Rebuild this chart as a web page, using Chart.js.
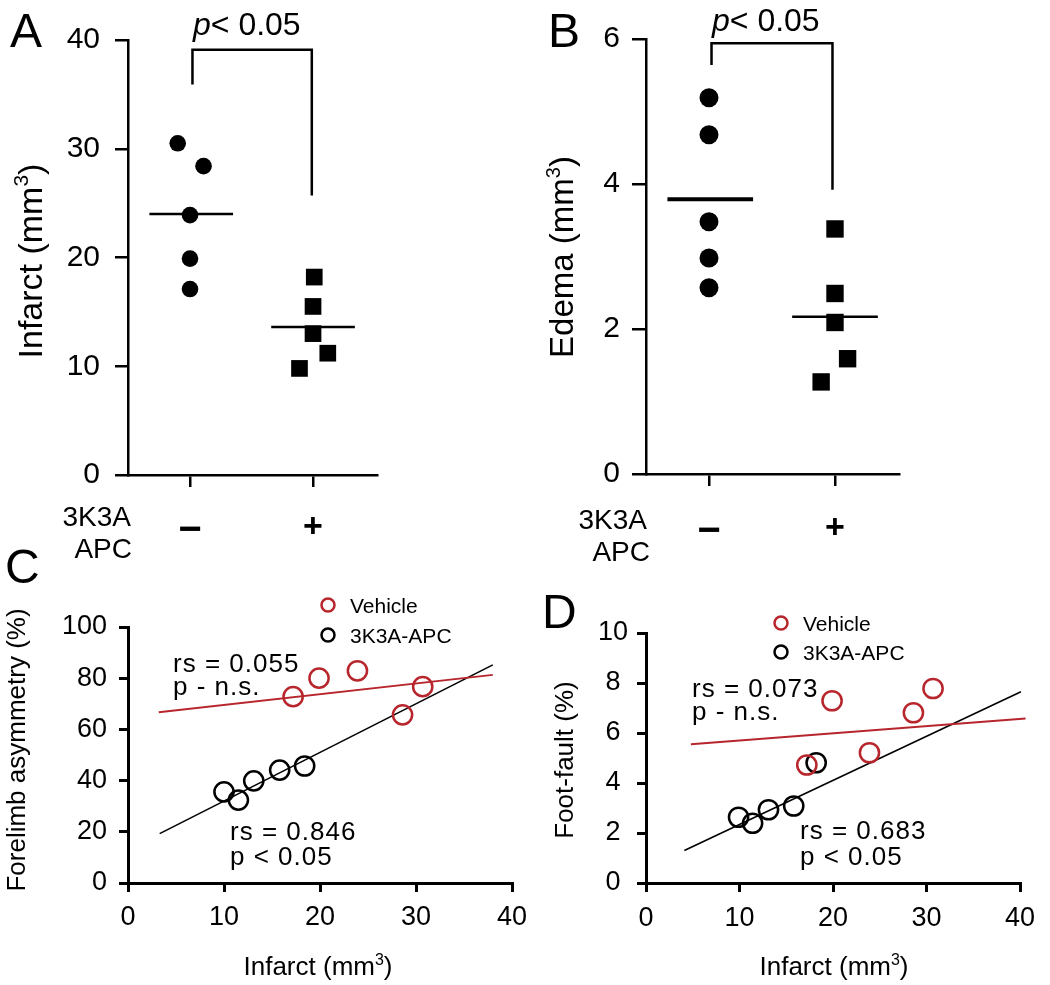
<!DOCTYPE html>
<html>
<head>
<meta charset="utf-8">
<title>3K3A-APC infarct, edema and behaviour</title>
<script src="https://cdn.jsdelivr.net/npm/chart.js@4.4.0/dist/chart.umd.min.js"></script>
<style>
  html, body { margin: 0; padding: 0; background: #fff; }
  #fig { position: relative; width: 1050px; height: 985px; }
  #fig canvas { position: absolute; left: 0; top: 0; }
</style>
</head>
<body>
<div id="fig">
  <canvas id="chartA" width="1050" height="985"></canvas>
  <canvas id="chartB" width="1050" height="985"></canvas>
  <canvas id="chartC" width="1050" height="985"></canvas>
  <canvas id="chartD" width="1050" height="985"></canvas>
</div>
<script>
// ---- data ----
// A/B: group 1 = vehicle (3K3A-APC "−"), group 2 = 3K3A-APC "+"; x has the small jitter seen in the plot
const groupTicks = [1, 2];
const groupTickLabels = ['−', '+'];

const infarctVehX = [0.90, 1.11, 1.0, 1.0, 1.0];
const infarctVehY = [30.5, 28.4, 23.9, 19.9, 17.1];
const infarctApcX = [2.01, 2.0, 2.0, 2.12, 1.89];
const infarctApcY = [18.2, 15.5, 13.0, 11.2, 9.8];
const infarctMeans = [24.0, 13.6];

const edemaVehX = [1.0, 1.0, 1.0, 1.0, 1.0];
const edemaVehY = [5.19, 4.68, 3.48, 2.98, 2.57];
const edemaApcX = [2.0, 2.0, 2.0, 2.10, 1.89];
const edemaApcY = [3.38, 2.49, 2.09, 1.59, 1.27];
const edemaMeans = [3.79, 2.17];

const meanSpan = [[0.67, 1.35], [1.66, 2.34]];

// significance brackets: [x left, x right, top, left foot, right foot]
const bracketA = [1.02, 1.99, 39.1, 35.9, 25.7];
const bracketB = [1.02, 1.98, 5.94, 5.64, 3.92];

// C/D: infarct volume (x) vs behaviour (y)
const forelimbVehX = [17.2, 19.9, 23.9, 30.7, 28.6];
const forelimbVehY = [72.8, 80.0, 82.9, 76.7, 65.7];
const forelimbApcX = [10.0, 11.5, 13.1, 15.8, 18.4];
const forelimbApcY = [35.6, 32.4, 39.9, 44.1, 45.7];
const forelimbVehFit = [[3.2, 66.7], [38.0, 81.3]];
const forelimbApcFit = [[3.3, 19.3], [38.0, 85.2]];

const footVehX = [17.2, 19.9, 23.9, 28.6, 30.7];
const footVehY = [4.72, 7.29, 5.21, 6.81, 7.78];
const footApcX = [9.9, 11.4, 13.1, 15.8, 18.2];
const footApcY = [2.63, 2.39, 2.93, 3.08, 4.81];
const footVehFit = [[4.8, 5.55], [40.6, 6.58]];
const footApcFit = [[4.1, 1.30], [40.1, 7.65]];

const infarctTicks = [0, 10, 20, 30, 40];
const edemaTicks = [0, 2, 4, 6];
const forelimbTicks = [0, 20, 40, 60, 80, 100];
const footTicks = [0, 2, 4, 6, 8, 10];

const legendLabels = ['Vehicle', '3K3A-APC'];

// ---- styling ----
const W = 1050, H = 985;
const BOX = 80; // room given to each axis box (tick labels are clipped to it)
const FONT = "'Liberation Sans', Arial, Helvetica, sans-serif";
const RED = '#b8262d';
Chart.defaults.font.family = FONT;
Chart.defaults.color = '#000';

const pts = (xs, ys) => xs.map((x, i) => ({ x, y: ys[i] }));
const seg = a => a.map(([x, y]) => ({ x, y }));

function axis(min, max, values, o) {
  return {
    type: 'linear', min, max,
    afterBuildTicks: s => { s.ticks = values.map(v => ({ value: v })); },
    // fixed box size, chart area itself is placed with layout padding
    afterFit: s => {
      if (s.isHorizontal()) s.height = BOX; else s.width = BOX;
      s.paddingLeft = s.paddingRight = s.paddingTop = s.paddingBottom = 0;
    },
    ticks: {
      padding: o.pad,
      font: o.font || { size: o.size },
      color: '#000',
      crossAlign: o.cross || 'near',
      maxRotation: 0, autoSkip: false,
      callback: o.labels ? (v, i) => o.labels[i] : v => String(v)
    },
    grid: {
      drawOnChartArea: false, drawTicks: true, tickLength: o.tl,
      tickWidth: o.lw, tickColor: '#000', lineWidth: o.lw, color: '#000'
    },
    border: { display: true, color: '#000', width: o.lw }
  };
}

// the "−" needs a bigger size than "+" to get the long thick dash of the original
const groupFont = c => ({ size: c.index === 0 ? 40 : 34, weight: 'bold' });

function dots(data, style, r) {
  return {
    data, pointStyle: style, pointRadius: r,
    pointBackgroundColor: '#000', pointBorderWidth: 0, showLine: false
  };
}
function rings(data, color) {
  return {
    data, pointStyle: 'circle', pointRadius: 9.6,
    pointBackgroundColor: 'rgba(0,0,0,0)', pointBorderColor: color,
    pointBorderWidth: 2.5, showLine: false
  };
}
function line(data, color, width) {
  return {
    data, showLine: true, pointRadius: 0, borderColor: color,
    borderWidth: width, clip: false
  };
}
function meanLine(span, v, width) {
  return line(seg([[span[0], v], [span[1], v]]), '#000', width);
}

function drawParts(ctx, t) {
  const size = t.size;
  const fontOf = p => (p.italic ? 'italic ' : '') + (p.sup ? Math.round(size * 0.62) : size) + 'px ' + FONT;
  ctx.save();
  ctx.translate(t.x, t.y);
  if (t.rotate) ctx.rotate(-Math.PI / 2);
  ctx.fillStyle = '#000';
  ctx.textBaseline = 'alphabetic';
  ctx.textAlign = 'left';
  ctx.letterSpacing = (t.ls || 0) + 'px';
  let total = 0;
  const widths = t.parts.map(p => { ctx.font = fontOf(p); const w = ctx.measureText(p.t).width; total += w; return w; });
  let cx = t.align === 'center' ? -total / 2 : t.align === 'right' ? -total : 0;
  t.parts.forEach((p, i) => {
    ctx.font = fontOf(p);
    ctx.fillText(p.t, cx, p.sup ? -size * 0.4 : 0);
    cx += widths[i];
  });
  ctx.restore();
}

function overlay(id, texts, bracket, legend) {
  return {
    id,
    afterDraw(chart) {
      const ctx = chart.ctx, xs = chart.scales.x, ys = chart.scales.y;
      ctx.save();
      if (bracket) {
        const [x1, x2, top, f1, f2] = bracket;
        ctx.strokeStyle = '#000';
        ctx.lineWidth = 2.5;
        ctx.beginPath();
        ctx.moveTo(xs.getPixelForValue(x1), ys.getPixelForValue(f1));
        ctx.lineTo(xs.getPixelForValue(x1), ys.getPixelForValue(top));
        ctx.lineTo(xs.getPixelForValue(x2), ys.getPixelForValue(top));
        ctx.lineTo(xs.getPixelForValue(x2), ys.getPixelForValue(f2));
        ctx.stroke();
      }
      if (legend) {
        legendLabels.forEach((lab, i) => {
          const y = legend.y + i * legend.dy;
          ctx.beginPath();
          ctx.arc(legend.x, y, 6.5, 0, Math.PI * 2);
          ctx.strokeStyle = i === 0 ? RED : '#000';
          ctx.lineWidth = 2.5;
          ctx.stroke();
          drawParts(ctx, { parts: [{ t: lab }], x: legend.tx, y: y + 8, size: 21 });
        });
      }
      texts.forEach(t => drawParts(ctx, t));
      ctx.restore();
    }
  };
}

function panel(id, area, xAxis, yAxis, datasets, plugin) {
  return new Chart(document.getElementById(id), {
    type: 'scatter',
    data: { datasets },
    options: {
      responsive: false, animation: false, events: [],
      layout: { padding: { left: area[0] - BOX, top: area[1], right: W - area[2], bottom: H - area[3] - BOX } },
      scales: { x: xAxis, y: yAxis },
      plugins: { legend: { display: false }, tooltip: { enabled: false } }
    },
    plugins: [plugin]
  });
}

const mm3 = [{ t: 'Infarct (mm' }, { t: '3', sup: true }, { t: ')' }];
const pSig = [{ t: 'p', italic: true }, { t: '< 0.05' }];

// ---- A: infarct volume ----
panel('chartA', [128, 40, 377, 475],
  axis(0.496, 2.52, groupTicks, { pad: 20, font: groupFont, labels: groupTickLabels, tl: 12, lw: 2.5 }),
  axis(0, 40, infarctTicks, { pad: 15, size: 30, tl: 13, lw: 2.5 }),
  [
    dots(pts(infarctVehX, infarctVehY), 'circle', 8.3),
    dots(pts(infarctApcX, infarctApcY), 'rect', 11.8),
    meanLine(meanSpan[0], infarctMeans[0], 2.5),
    meanLine(meanSpan[1], infarctMeans[1], 2.5)
  ],
  overlay('textA', [
    { parts: [{ t: 'A' }], x: 10, y: 47, size: 48 },
    { parts: pSig, x: 193, y: 35, size: 32 },
    { parts: mm3, x: 42, y: 261, size: 34, align: 'center', rotate: true },
    { parts: [{ t: '3K3A' }], x: 131, y: 526, size: 28, align: 'right' },
    { parts: [{ t: 'APC' }], x: 132, y: 558, size: 28, align: 'right' }
  ], bracketA));

// ---- B: edema volume ----
panel('chartB', [646, 39, 899, 474],
  axis(0.5, 2.508, groupTicks, { pad: 22, font: groupFont, labels: groupTickLabels, tl: 12, lw: 2.5 }),
  axis(0, 6, edemaTicks, { pad: 12, size: 30, tl: 14, lw: 2.5 }),
  [
    dots(pts(edemaVehX, edemaVehY), 'circle', 9.5),
    dots(pts(edemaApcX, edemaApcY), 'rect', 12.3),
    meanLine(meanSpan[0], edemaMeans[0], 4),
    meanLine(meanSpan[1], edemaMeans[1], 2.5)
  ],
  overlay('textB', [
    { parts: [{ t: 'B' }], x: 548, y: 47, size: 48 },
    { parts: pSig, x: 712, y: 31, size: 32 },
    { parts: [{ t: 'Edema (mm' }, { t: '3', sup: true }, { t: ')' }], x: 573, y: 257, size: 33, align: 'center', rotate: true },
    { parts: [{ t: '3K3A' }], x: 647, y: 529, size: 28, align: 'right' },
    { parts: [{ t: 'APC' }], x: 650, y: 561, size: 28, align: 'right' }
  ], bracketB));

// ---- C: forelimb asymmetry vs infarct ----
panel('chartC', [128, 627, 512, 883],
  axis(0, 40, infarctTicks, { pad: 9, size: 27, tl: 9, lw: 3 }),
  axis(0, 100, forelimbTicks, { pad: 12, size: 27, tl: 9, lw: 3 }),
  [
    rings(pts(forelimbVehX, forelimbVehY), RED),
    rings(pts(forelimbApcX, forelimbApcY), '#000'),
    line(seg(forelimbVehFit), RED, 2),
    line(seg(forelimbApcFit), '#000', 1.6)
  ],
  overlay('textC', [
    { parts: [{ t: 'C' }], x: 5, y: 583, size: 48 },
    { parts: [{ t: 'Forelimb asymmetry (%)' }], x: 25, y: 750, size: 26, align: 'center', rotate: true },
    { parts: mm3, x: 318, y: 975, size: 26, align: 'center' },
    { parts: [{ t: 'rs = 0.055' }], x: 173, y: 672, size: 26, ls: 1 },
    { parts: [{ t: 'p - n.s.' }], x: 173, y: 695, size: 26, ls: 1 },
    { parts: [{ t: 'rs = 0.846' }], x: 230, y: 840, size: 26, ls: 1 },
    { parts: [{ t: 'p < 0.05' }], x: 230, y: 865, size: 26, ls: 1 }
  ], null, { x: 328, y: 605, dy: 30, tx: 350 }));

// ---- D: foot-fault vs infarct ----
panel('chartD', [646, 633, 1020, 883],
  axis(0, 40, infarctTicks, { pad: 10, size: 27, tl: 9, lw: 3 }),
  axis(0, 10, footTicks, { pad: 9, size: 27, tl: 9, lw: 3, cross: 'center' }),
  [
    rings(pts(footVehX, footVehY), RED),
    rings(pts(footApcX, footApcY), '#000'),
    line(seg(footVehFit), RED, 2),
    line(seg(footApcFit), '#000', 1.6)
  ],
  overlay('textD', [
    { parts: [{ t: 'D' }], x: 542, y: 628, size: 48 },
    { parts: [{ t: 'Foot-fault (%)' }], x: 573, y: 760, size: 26, align: 'center', rotate: true },
    { parts: mm3, x: 834, y: 975, size: 26, align: 'center' },
    { parts: [{ t: 'rs = 0.073' }], x: 692, y: 697, size: 26, ls: 1 },
    { parts: [{ t: 'p - n.s.' }], x: 692, y: 720, size: 26, ls: 1 },
    { parts: [{ t: 'rs = 0.683' }], x: 800, y: 839, size: 26, ls: 1 },
    { parts: [{ t: 'p < 0.05' }], x: 800, y: 865, size: 26, ls: 1 }
  ], null, { x: 781, y: 623, dy: 29, tx: 803 }));
</script>
</body>
</html>
